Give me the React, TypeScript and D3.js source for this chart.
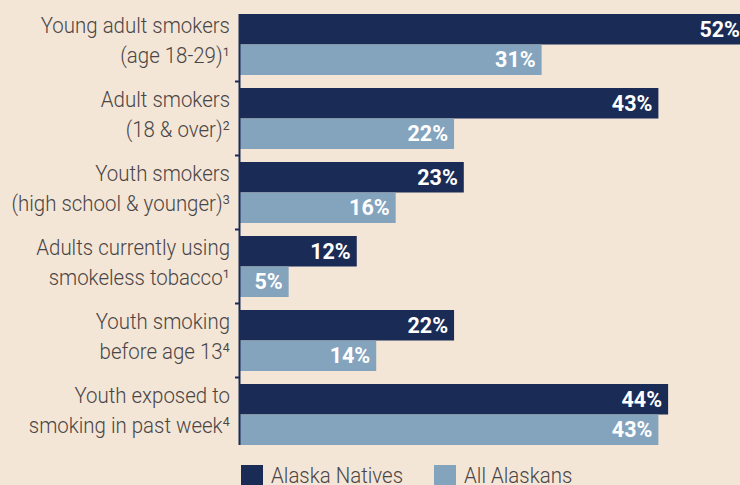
import React from "react";
import * as d3 from "d3";

const categories = [
  ["Young adult smokers", "(age 18-29)¹"],
  ["Adult smokers", "(18 & over)²"],
  ["Youth smokers", "(high school & younger)³"],
  ["Adults currently using", "smokeless tobacco¹"],
  ["Youth smoking", "before age 13⁴"],
  ["Youth exposed to", "smoking in past week⁴"],
];
const alaskaNatives = [52, 43, 23, 12, 22, 44];
const allAlaskans = [31, 22, 16, 5, 14, 43];
const seriesNames = ["Alaska Natives", "All Alaskans"];

const W = 740;
const H = 485;
const BG = "#f3e6d7";
const DARK = "#1a2b55";
const LIGHT = "#84a3bd";
const TEXT = "#4a4545";

export default function App() {
  const keys = categories.map((c) => c.join(" "));
  const x = d3.scaleLinear().domain([0, 100]).range([240, 240 + 973]);
  const y = d3
    .scaleBand<string>()
    .domain(keys)
    .range([7.5, 451.5])
    .paddingInner(13 / 74)
    .paddingOuter(6.5 / 74);
  const bw = y.bandwidth();
  const half = bw / 2;
  const labelFont = "Roboto, 'Open Sans', sans-serif";

  return (
    <svg
      width={W}
      height={H}
      style={{ position: "fixed", left: 0, top: 0, display: "block" }}
    >
      <rect x={0} y={0} width={W} height={H} fill={BG} />
      {keys.map((k, i) => {
        const y0 = y(k)!;
        const cy = y0 + half;
        return (
          <g key={k}>
            <rect x={x(0)} y={y0} width={x(alaskaNatives[i]) - x(0)} height={half} fill={DARK} />
            <rect x={x(0)} y={y0 + half} width={x(allAlaskans[i]) - x(0)} height={half} fill={LIGHT} />
            <text
              x={x(alaskaNatives[i]) - 6}
              y={y0 + half / 2 + 7.5}
              textAnchor="end"
              fill="#ffffff"
              fontFamily={labelFont}
              fontWeight={700}
              fontSize={21.5}
            >
              {alaskaNatives[i]}%
            </text>
            <text
              x={x(allAlaskans[i]) - 6}
              y={y0 + half + half / 2 + 7.5}
              textAnchor="end"
              fill="#ffffff"
              fontFamily={labelFont}
              fontWeight={700}
              fontSize={21.5}
            >
              {allAlaskans[i]}%
            </text>
            {categories[i].map((line, j) => (
              <text
                key={j}
                transform={`translate(230,${cy + (j === 0 ? -11.5 : 18.5)}) scale(0.93,1)`}
                textAnchor="end"
                fill={TEXT}
                fontFamily={labelFont}
                fontWeight={300}
                fontSize={22}
              >
                {line}
              </text>
            ))}
            {i > 0 && (
              <line x1={235} x2={240} y1={y0 - 6.5} y2={y0 - 6.5} stroke={DARK} strokeWidth={2} />
            )}
          </g>
        );
      })}
      <line
        x1={239.5}
        x2={239.5}
        y1={y(keys[0])!}
        y2={y(keys[keys.length - 1])! + bw}
        stroke={DARK}
        strokeWidth={2}
      />
      {seriesNames.map((name, i) => {
        const lx = i === 0 ? 241 : 434;
        return (
          <g key={name}>
            <rect x={lx} y={465} width={22} height={22} fill={i === 0 ? DARK : LIGHT} />
            <text
              transform={`translate(${lx + 30},483) scale(0.93,1)`}
              fill={TEXT}
              fontFamily={labelFont}
              fontWeight={300}
              fontSize={22}
            >
              {name}
            </text>
          </g>
        );
      })}
    </svg>
  );
}
